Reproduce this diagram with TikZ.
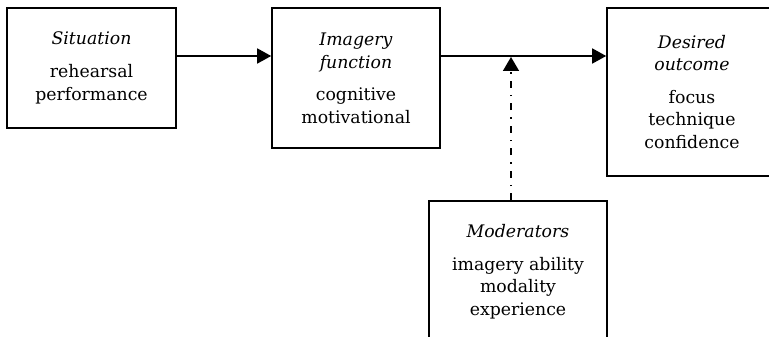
\documentclass[tikz,border=0pt]{standalone}
\usepackage{fontspec}
\setmainfont{DejaVu Serif}
\usetikzlibrary{arrows.meta}
\begin{document}
\begin{tikzpicture}[x=1pt,y=-1pt,
  box/.style={draw, line width=1.6pt, align=center, inner sep=0pt,
    font=\fontsize{17.3}{22.8}\selectfont},
  flow/.style={line width=1.6pt, -{Triangle[length=14pt,width=15pt]}},
  modflow/.style={line width=1.6pt, dash pattern=on 7pt off 7pt on 1.5pt off 7pt,
    -{Triangle[length=14pt,width=16pt]}}]
\useasboundingbox (0,0) rectangle (769,337);
\node[box, minimum width=169pt, minimum height=120pt] (sit) at (91.5,68)
  {\textit{Situation}\\[10.5pt]rehearsal\\performance};
\node[box, minimum width=168pt, minimum height=140pt] (img) at (356,78)
  {\textit{Imagery}\\\textit{function}\\[9.5pt]cognitive\\motivational};
\node[box, minimum width=170pt, minimum height=168pt] (out) at (692,92)
  {\textit{Desired}\\\textit{outcome}\\[9.5pt]focus\\technique\\confidence};
\node[box, minimum width=178pt, minimum height=142pt] (mod) at (518,272)
  {\textit{Moderators}\\[9.5pt]imagery ability\\modality\\experience};
\coordinate (ly) at (0,56);
\coordinate (mj) at (511,57);
\draw[flow] (sit.east |- ly) -- (img.west |- ly);
\draw[flow] (img.east |- ly) -- (out.west |- ly);
\draw[modflow] (mod.north -| mj) -- (mj);
\end{tikzpicture}
\end{document}
